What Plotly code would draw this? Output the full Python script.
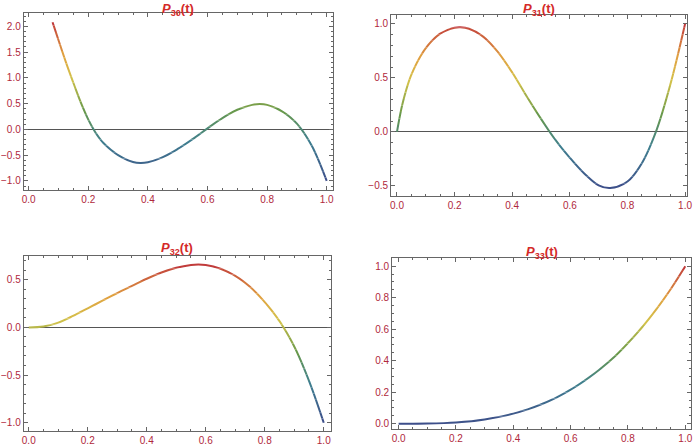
import plotly.graph_objects as go

# values
P30_T = [0.08, 0.1, 0.125, 0.15, 0.175, 0.2, 0.225, 0.25, 0.3, 0.35, 0.375, 0.4, 0.45, 0.5,
         0.55, 0.6, 0.65, 0.7, 0.75, 0.775, 0.8, 0.85, 0.9, 0.95, 1.0]
P30_Y = [2.08, 1.73, 1.3, 0.9, 0.52, 0.19, -0.07, -0.26, -0.5, -0.635, -0.655, -0.64, -0.54, -0.38,
         -0.19, 0.02, 0.22, 0.38, 0.475, 0.49, 0.475, 0.35, 0.11, -0.32, -1.0]

P31_T = [0.0, 0.02, 0.05, 0.1, 0.15, 0.2, 0.22, 0.25, 0.3, 0.35, 0.4, 0.45, 0.5,
         0.55, 0.6, 0.65, 0.7, 0.74, 0.8, 0.85, 0.9, 0.95, 1.0]
P31_Y = [0.0, 0.27, 0.53, 0.775, 0.91, 0.964, 0.968, 0.955, 0.88, 0.74, 0.55, 0.33, 0.12,
         -0.075, -0.24, -0.385, -0.495, -0.52, -0.46, -0.29, 0.01, 0.45, 1.0]

P32_T = [0.0, 0.05, 0.1, 0.15, 0.2, 0.25, 0.3, 0.35, 0.4, 0.45, 0.5, 0.55, 0.575, 0.6,
         0.65, 0.7, 0.75, 0.8, 0.85, 0.9, 0.95, 1.0]
P32_Y = [0.0, 0.01, 0.05, 0.12, 0.2, 0.28, 0.36, 0.435, 0.51, 0.575, 0.625, 0.655, 0.66, 0.655,
         0.615, 0.54, 0.425, 0.265, 0.065, -0.2, -0.56, -1.0]

P33_T = [0.0, 0.1, 0.2, 0.3, 0.4, 0.45, 0.5, 0.55, 0.6, 0.65, 0.7, 0.75, 0.8,
         0.85, 0.9, 0.95, 1.0]
P33_Y = [0.0, 0.001, 0.008, 0.027, 0.064, 0.091, 0.125, 0.166, 0.216, 0.275, 0.343, 0.42, 0.512,
         0.614, 0.729, 0.857, 1.0]

W, H = 698, 446
TICK_RED = "#b0283c"
TITLE_RED = "#d42a2a"
FRAME = "#666666"

# blue -> teal -> green -> yellow -> orange -> red, by scaled height
COLORS = [
    (0.0, (61, 78, 138)),
    (0.25, (63, 127, 143)),
    (0.45, (106, 154, 74)),
    (0.65, (212, 194, 74)),
    (0.8, (224, 160, 64)),
    (1.0, (192, 57, 59)),
]

PANELS = [
    dict(label="30", t=P30_T, y=P30_Y, box=(22, 334, 13, 191), title_y=9.5,
         xr=[-0.0166, 1.02], yr=[-1.18, 2.26], ydt=0.5, ymin=0.1, zero=True),
    dict(label="31", t=P31_T, y=P31_Y, box=(393, 692, 15, 197), title_y=10,
         xr=[-0.0206, 1.0069], yr=[-0.595, 1.083], ydt=0.5, ymin=0.1, zero=True),
    dict(label="32", t=P32_T, y=P32_Y, box=(22, 332, 257, 433), title_y=250,
         xr=[-0.0168, 1.0235], yr=[-1.087, 0.75], ydt=0.5, ymin=0.1, zero=True),
    dict(label="33", t=P33_T, y=P33_Y, box=(394, 696, 259, 431), title_y=254,
         xr=[-0.023, 1.02], yr=[-0.034, 1.053], ydt=0.2, ymin=0.05, zero=False),
]

N_BANDS = 28


def color_at(f):
    f = min(max(f, 0.0), 1.0)
    for (a, ca), (b, cb) in zip(COLORS[:-1], COLORS[1:]):
        if f <= b:
            u = (f - a) / (b - a)
            rgb = [round(ca[k] + (cb[k] - ca[k]) * u) for k in range(3)]
            return "rgb(%d,%d,%d)" % tuple(rgb)
    return "rgb(%d,%d,%d)" % COLORS[-1][1]


fig = go.Figure()
layout = {}
n_panels = len(PANELS)
next_y = n_panels + 1

for i, p in enumerate(PANELS):
    n = i + 1
    left, right, top, bottom = p["box"]
    xdom = [left / W, right / W]
    ydom = [1 - bottom / H, 1 - top / H]
    xname = "x" if n == 1 else f"x{n}"
    yname = "y" if n == 1 else f"y{n}"
    tick_font = dict(family="Liberation Sans, Arial", size=10, color=TICK_RED)

    layout["xaxis" if n == 1 else f"xaxis{n}"] = dict(
        domain=xdom, range=p["xr"], anchor=yname,
        showline=True, linecolor=FRAME, linewidth=1, mirror="ticks",
        ticks="inside", ticklen=4, tickcolor=FRAME, tick0=0, dtick=0.2,
        tickformat=".1f", tickfont=tick_font, showgrid=False, zeroline=False,
        minor=dict(ticks="inside", ticklen=2, tickcolor=FRAME, dtick=0.05, showgrid=False),
    )
    layout["yaxis" if n == 1 else f"yaxis{n}"] = dict(
        domain=ydom, range=p["yr"], anchor=xname,
        showline=True, linecolor=FRAME, linewidth=1, mirror="ticks",
        ticks="inside", ticklen=4, tickcolor=FRAME, tick0=0, dtick=p["ydt"],
        tickformat=".1f", tickfont=tick_font, showgrid=False,
        zeroline=p["zero"], zerolinecolor="#555555", zerolinewidth=1,
        minor=dict(ticks="inside", ticklen=2, tickcolor=FRAME, dtick=p["ymin"], showgrid=False),
    )
    # invisible copy of the curve so the framed panel gets its own subplot
    fig.add_trace(go.Scatter(
        x=p["t"], y=p["y"], mode="lines", line=dict(width=0.1, color="rgba(0,0,0,0)"),
        xaxis=xname, yaxis=yname, showlegend=False, hoverinfo="skip",
    ))

    # hidden twin of the panel's x axis, shared by the colour strips below
    hx = n_panels + n
    layout[f"xaxis{hx}"] = dict(domain=xdom, range=p["xr"], anchor=f"y{next_y}",
                                visible=False, showgrid=False, zeroline=False)

    # colour by height: the same curve is drawn in thin horizontal strips,
    # each on its own hidden y axis, so each strip clips to its own colour
    y0, y1 = p["yr"]
    lo, hi = min(p["y"]), max(p["y"])
    for k in range(N_BANDS):
        a = y0 + (y1 - y0) * k / N_BANDS
        b = y0 + (y1 - y0) * (k + 1) / N_BANDS
        d0 = ydom[0] + (ydom[1] - ydom[0]) * k / N_BANDS
        d1 = ydom[0] + (ydom[1] - ydom[0]) * (k + 1) / N_BANDS
        m = next_y
        next_y += 1
        layout[f"yaxis{m}"] = dict(domain=[d0, d1], range=[a, b], anchor=f"x{hx}",
                                   visible=False, showgrid=False, zeroline=False)
        mid = (a + b) / 2
        fig.add_trace(go.Scatter(
            x=p["t"], y=p["y"], mode="lines",
            line=dict(shape="spline", smoothing=1.0, width=2,
                      color=color_at((mid - lo) / (hi - lo))),
            xaxis=f"x{hx}", yaxis=f"y{m}", showlegend=False, hoverinfo="skip",
        ))

    fig.add_annotation(
        text=f"<b><i>P</i><sub>{p['label']}</sub>(t)</b>",
        x=(xdom[0] + xdom[1]) / 2, y=1 - p["title_y"] / H,
        xref="paper", yref="paper", xanchor="center", yanchor="middle",
        showarrow=False,
        font=dict(family="Liberation Sans, Arial", size=13, color=TITLE_RED),
    )

fig.update_layout(
    width=W, height=H,
    margin=dict(l=0, r=0, t=0, b=0),
    paper_bgcolor="white",
    plot_bgcolor="rgba(0,0,0,0)",
    showlegend=False,
    **layout,
)

# the page body has a default 8px margin; drop it so the figure sits at 0,0
fig.write_html("out.html", config={"displayModeBar": False},
               post_script="document.body.style.margin = '0';")
